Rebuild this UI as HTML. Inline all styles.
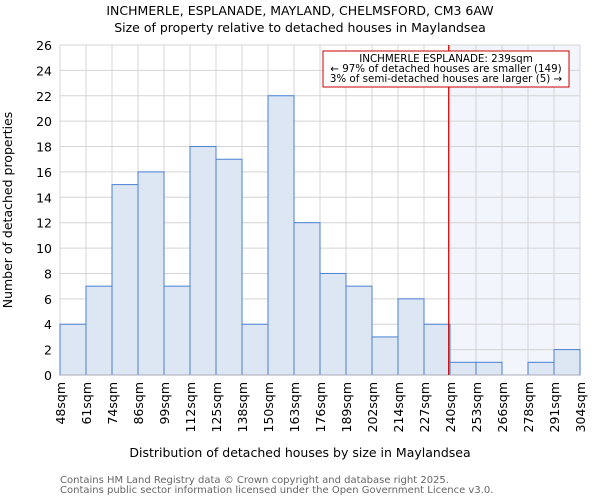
<!DOCTYPE html>
<html><head><meta charset="utf-8"><style>
body{margin:0;background:#fff;font-family:"DejaVu Sans","Liberation Sans",sans-serif;}
svg text{font-family:"DejaVu Sans","Liberation Sans",sans-serif;}
</style></head><body>
<svg id="chart" width="600" height="500" viewBox="0 0 600 500" xmlns="http://www.w3.org/2000/svg">
<text x="300" y="15" text-anchor="middle" font-size="12.5">INCHMERLE, ESPLANADE, MAYLAND, CHELMSFORD, CM3 6AW</text>
<text x="300" y="32" text-anchor="middle" font-size="12.5">Size of property relative to detached houses in Maylandsea</text>
<g id="grid"></g><g id="bars"></g><g id="axes"></g>
<text x="300" y="457" text-anchor="middle" font-size="12.5">Distribution of detached houses by size in Maylandsea</text>
<text transform="translate(12,210) rotate(-90)" text-anchor="middle" font-size="12.5">Number of detached properties</text>
<text x="60" y="483" font-size="10" fill="#666">Contains HM Land Registry data © Crown copyright and database right 2025.</text>
<text x="60" y="493" font-size="10" fill="#666">Contains public sector information licensed under the Open Government Licence v3.0.</text>
</svg>
<script>
const categories=["48sqm","61sqm","74sqm","86sqm","99sqm","112sqm","125sqm","138sqm","150sqm","163sqm","176sqm","189sqm","202sqm","214sqm","227sqm","240sqm","253sqm","266sqm","278sqm","291sqm","304sqm"];
const counts=[4,7,15,16,7,18,17,4,22,12,8,7,3,6,4,1,1,0,1,2];
const yTicks=[0,2,4,6,8,10,12,14,16,18,20,22,24,26];
const markerBin=14.95;
const annotationLines=["INCHMERLE ESPLANADE: 239sqm","← 97% of detached houses are smaller (149)","3% of semi-detached houses are larger (5) →"];
const NS="http://www.w3.org/2000/svg";
const L=60,R=580,T=45,B=375,yMax=26;
const bw=(R-L)/counts.length;
const x=i=>L+i*bw, y=v=>B-v/yMax*(B-T);
function mk(tag,attrs,parent){const e=document.createElementNS(NS,tag);for(const k in attrs)e.setAttribute(k,attrs[k]);parent.appendChild(e);return e;}
const grid=document.getElementById('grid'),bars=document.getElementById('bars'),axes=document.getElementById('axes');
const mx=x(markerBin);
let sh=mk('rect',{x:mx,y:T,width:R-mx,height:B-T,fill:'#f2f5fc'},grid);


yTicks.forEach(t=>{
 let g=mk('line',{x1:L,x2:R,y1:y(t),y2:y(t),stroke:'#d4d4d4','stroke-width':1},grid);
 
 
 let tx=mk('text',{x:L-8,y:y(t)+5,'text-anchor':'end','font-size':12.5},axes);tx.textContent=t;
 
 
});
categories.forEach((c,i)=>{
 let g=mk('line',{x1:x(i),x2:x(i),y1:T,y2:B,stroke:'#d4d4d4','stroke-width':1},grid);
 
 
 let tx=mk('text',{transform:`translate(${x(i)+5},${B+7}) rotate(-90)`,'text-anchor':'end','font-size':12.5},axes);tx.textContent=c;
 
 
});
counts.forEach((v,i)=>{
 if(v<=0)return;
 let r=mk('rect',{x:x(i),y:y(v),width:bw,height:B-y(v),fill:'#dde7f4',stroke:'#4a80d4','stroke-width':1},bars);
 
 
});
let ax=mk('line',{x1:L,x2:R,y1:B,y2:B,stroke:'#aab','stroke-width':1},axes);


let ml=mk('line',{x1:mx,x2:mx,y1:T,y2:B,stroke:'#cc0000','stroke-width':1.2},axes);


let box=mk('rect',{x:323,y:51,width:246,height:36,fill:'#fff',stroke:'#cc0000','stroke-width':1},axes);


annotationLines.forEach((s,i)=>{
 let t=mk('text',{x:446,y:62+i*10,'text-anchor':'middle','font-size':10.3},axes);t.textContent=s;
 
 
});
</script>
</body></html>
